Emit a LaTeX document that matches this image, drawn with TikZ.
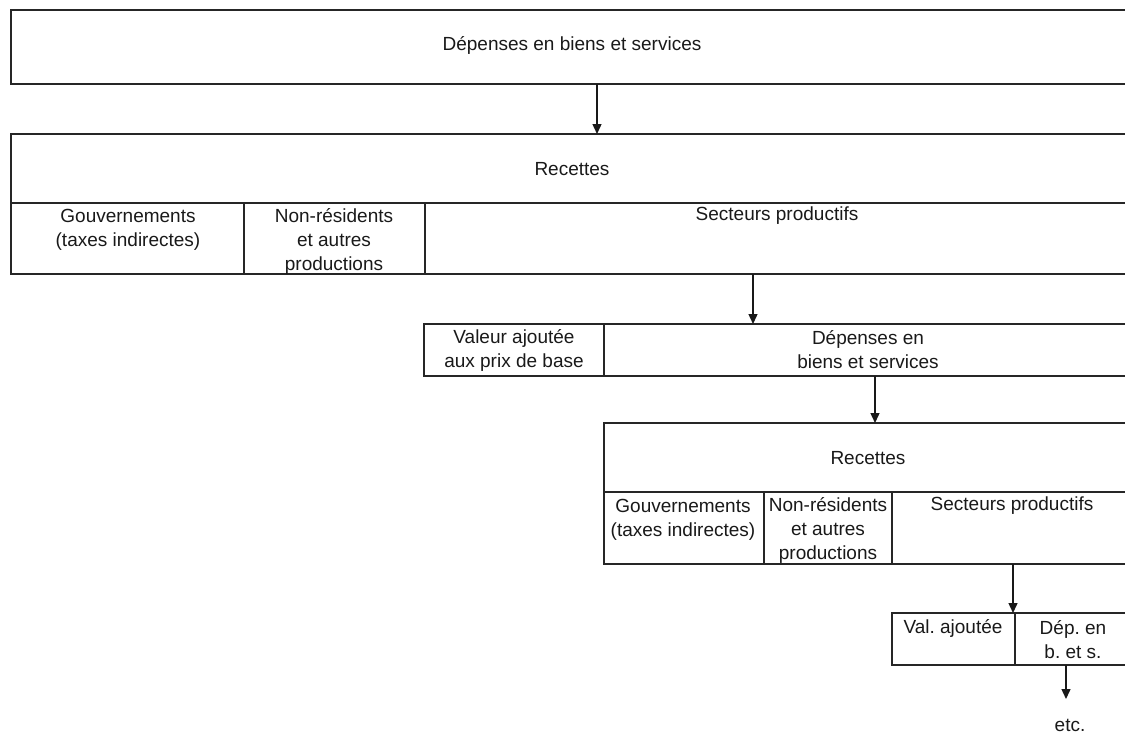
\documentclass[tikz,border=0pt]{standalone}
\usepackage{fontspec}
\setmainfont{Liberation Sans}
\usetikzlibrary{arrows.meta}
\begin{document}
\frenchspacing
\begin{tikzpicture}[x=1pt,y=-1pt,
  cell/.style={draw=black!85, line width=1.4pt, inner sep=0pt, outer sep=0pt},
  txt/.style={inner sep=0pt, align=center, text=black!90, font=\fontsize{19}{24}\selectfont},
  arr/.style={draw=black!90, line width=1.4pt, -{Triangle[length=10pt,width=9pt]}}]
\useasboundingbox (0,0) rectangle (1125,734);
\clip (0,0) rectangle (1125,734);
% level 1
\node[cell, minimum width=1121pt, minimum height=74pt] (b1) at (571.5,47) {};
\node[txt] (t1) at (572,45) {Dépenses en biens et services};
% level 2
\node[cell, minimum width=1121pt, minimum height=69pt] (r2) at (571.5,168.5) {};
\node[txt] (tr2) at (572,169) {Recettes};
\node[cell, minimum width=233pt, minimum height=71pt] (g2) at (127.5,238.5) {};
\node[txt] (tg2) at (128,230) {Gouvernements\\(taxes indirectes)};
\node[cell, minimum width=181pt, minimum height=71pt] (n2) at (334.5,238.5) {};
\node[txt] (tn2) at (334,241) {Non-résidents\\et autres\\productions};
\node[cell, minimum width=707pt, minimum height=71pt] (s2) at (778.5,238.5) {};
\node[txt] (ts2) at (777,216) {Secteurs productifs};
% level 3
\node[cell, minimum width=180pt, minimum height=52pt] (v3) at (514,350) {};
\node[txt] (tv3) at (514,350.5) {Valeur ajoutée\\aux prix de base};
\node[cell, minimum width=528pt, minimum height=52pt] (d3) at (868,350) {};
\node[txt] (td3) at (868,350) {Dépenses en\\biens et services};
% level 4
\node[cell, minimum width=528pt, minimum height=69pt] (r4) at (868,457.5) {};
\node[txt] (tr4) at (868,458) {Recettes};
\node[cell, minimum width=160pt, minimum height=72pt] (g4) at (684,528) {};
\node[txt] (tg4) at (683,520) {Gouvernements\\(taxes indirectes)};
\node[cell, minimum width=128pt, minimum height=72pt] (n4) at (828,528) {};
\node[txt] (tn4) at (828,530) {Non-résidents\\et autres\\productions};
\node[cell, minimum width=240pt, minimum height=72pt] (s4) at (1012,528) {};
\node[txt] (ts4) at (1012,506) {Secteurs productifs};
% level 5
\node[cell, minimum width=123pt, minimum height=52pt] (v5) at (953.5,639) {};
\node[txt] (tv5) at (953,628) {Val. ajoutée};
\node[cell, minimum width=117pt, minimum height=52pt] (d5) at (1073.5,639) {};
\node[txt] (td5) at (1073,640) {Dép. en\\b. et s.};
\node[txt] (etc) at (1070,725) {etc.};
% arrows
\coordinate (x1) at (597,0);
\coordinate (x2) at (753,0);
\coordinate (x3) at (875,0);
\coordinate (x4) at (1013,0);
\coordinate (e5) at (1066,699);
\draw[arr] (b1.south -| x1) -- (r2.north -| x1);
\draw[arr] (s2.south -| x2) -- (d3.north -| x2);
\draw[arr] (d3.south -| x3) -- (r4.north -| x3);
\draw[arr] (s4.south -| x4) -- (v5.north -| x4);
\draw[arr] (d5.south -| e5) -- (e5);
\end{tikzpicture}
\end{document}
